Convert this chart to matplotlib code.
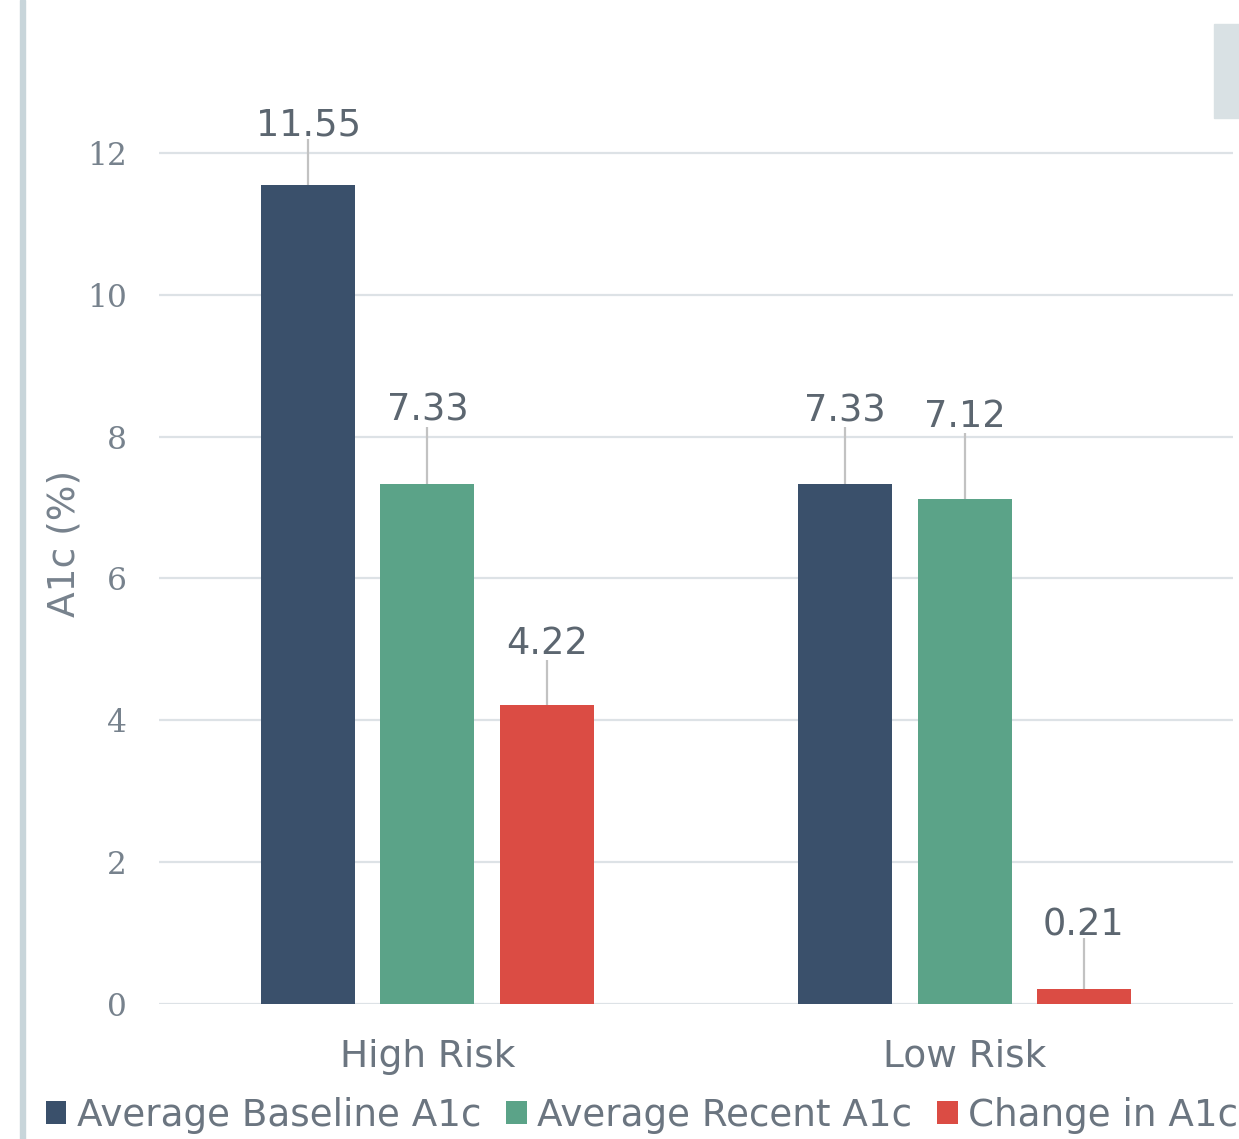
"""A1c by risk group: grouped bars with leader-line value labels."""

import matplotlib.pyplot as plt
import numpy as np
from matplotlib.patches import Rectangle

groups = ["High Risk", "Low Risk"]
series_names = ["Average Baseline A1c", "Average Recent A1c", "Change in A1c"]
baseline = [11.55, 7.33]
recent = [7.33, 7.12]
change = [4.22, 0.21]

colors = ["#3a506b", "#5ba388", "#db4c44"]

# how far above each bar the leader line stops / the label sits (data units)
line_lift = [[0.64, 0.81], [0.81, 0.93], [0.63, 0.72]]
text_lift = [[0.85, 1.03], [1.05, 1.16], [0.87, 0.90]]

LABEL_GRAY = "#5c6670"
TICK_GRAY = "#77828d"

fig = plt.figure(figsize=(12.39, 11.39), dpi=100)
ax = fig.add_axes([0.1283, 0.1185, 0.8669, 0.8095])

x = np.arange(len(groups))
width = 0.175
offsets = [-0.222, 0.0, 0.222]
values = [baseline, recent, change]

for i, (vals, name) in enumerate(zip(values, series_names)):
    xs = x + offsets[i]
    ax.bar(xs, vals, width, color=colors[i], label=name, zorder=3)
    for j, (xx, v) in enumerate(zip(xs, vals)):
        ax.vlines(xx, v, v + line_lift[i][j], color="#c2c2c2",
                  linewidth=1.6, zorder=2)
        ax.text(xx, v + text_lift[i][j], f"{v:.2f}", ha="center",
                va="center", fontsize=26.5, color=LABEL_GRAY)

ax.set_xlim(-0.5, 1.5)
ax.set_ylim(0, 13)
ax.set_yticks(np.arange(0, 13, 2))
ax.set_xticks(x)
ax.set_xticklabels(groups, fontsize=27, color="#6b7580")
for lab in ax.get_yticklabels():
    lab.set_fontfamily("DejaVu Serif")
    lab.set_fontsize(22.5)
    lab.set_color(TICK_GRAY)
ax.tick_params(axis="y", length=0, pad=23)
ax.tick_params(axis="x", length=0, pad=25)
ax.yaxis.grid(True, color="#dde2e6", linewidth=1.6, zorder=0)
ax.set_axisbelow(True)
for s in ax.spines.values():
    s.set_visible(False)

ax.set_ylabel("A1c (%)", fontsize=27, color=TICK_GRAY, va="center")
ax.yaxis.set_label_coords(-0.0875, 0.5)

# decorative bits along the edges
fig.add_artist(Rectangle((20 / 1239, 0), 5 / 1239, 1,
                         transform=fig.transFigure, color="#c8d5da"))
fig.add_artist(Rectangle((1214 / 1239, 1 - 118 / 1139), 25 / 1239, 94 / 1139,
                         transform=fig.transFigure, color="#d9e1e4"))

fig.legend(loc="center", bbox_to_anchor=(0.518, 0.021), ncol=3,
           frameon=False, fontsize=26.8, handlelength=0.55,
           handleheight=0.55, handletextpad=0.27, columnspacing=0.68,
           borderpad=0, borderaxespad=0, labelcolor="#6b7580")

fig.savefig("out.png", dpi=100)
